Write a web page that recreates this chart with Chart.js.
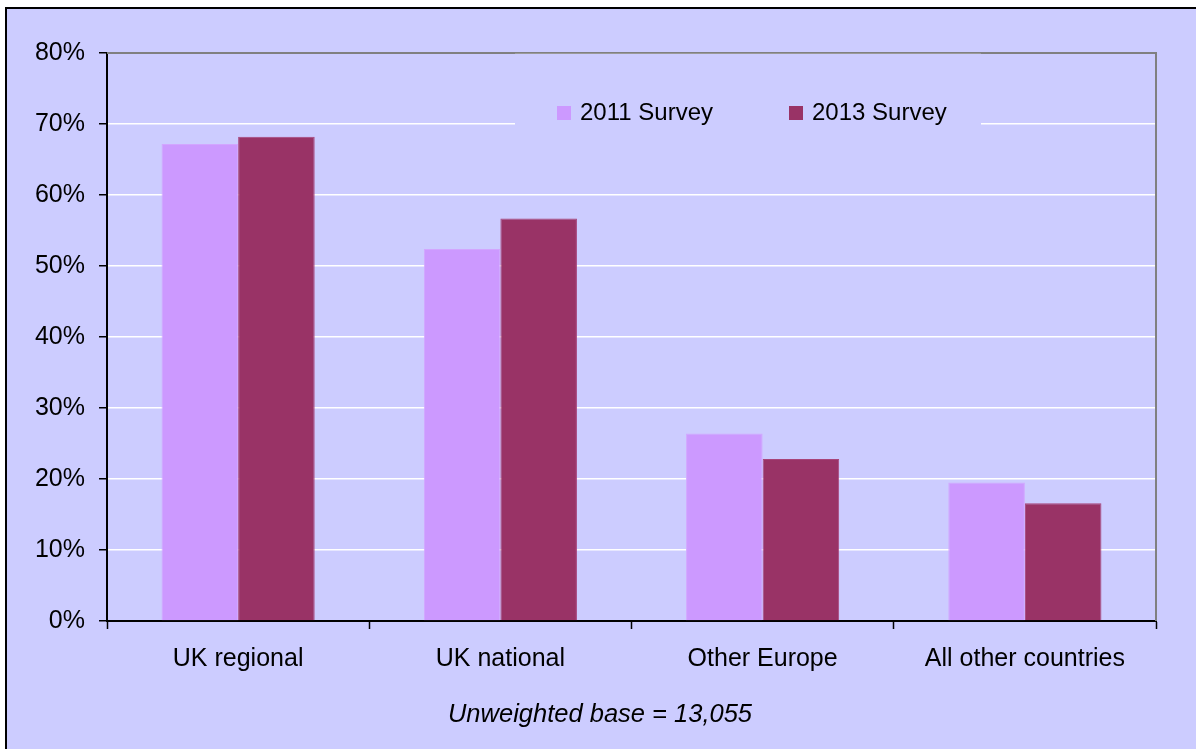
<!DOCTYPE html>
<html>
<head>
<meta charset="utf-8">
<script src="https://cdn.jsdelivr.net/npm/chart.js@4/dist/chart.umd.min.js"></script>
<style>
  html, body { margin: 0; padding: 0; background: #ffffff; }
  #wrap { width: 1196px; height: 749px; position: relative; }
</style>
</head>
<body>
<div id="wrap"><canvas id="c" width="1196" height="749"></canvas></div>
<script>
const categories = ["UK regional", "UK national", "Other Europe", "All other countries"];
const seriesNames = ["2011 Survey", "2013 Survey"];
const survey2011 = [67.2, 52.4, 26.4, 19.5];
const survey2013 = [68.2, 56.7, 22.8, 16.6];
const yTicks = [0, 10, 20, 30, 40, 50, 60, 70, 80];
const footnote = "Unweighted base = 13,055";

const FONT = "'Liberation Sans', Arial, sans-serif";
const BG = "#CCCCFF";

const framePlugin = {
  id: 'frame',
  beforeDraw(chart) {
    const ctx = chart.ctx;
    ctx.save();
    ctx.fillStyle = '#ffffff';
    ctx.fillRect(0, 0, chart.width, chart.height);
    ctx.fillStyle = BG;
    ctx.fillRect(6, 8, chart.width - 6, chart.height - 8);
    ctx.strokeStyle = '#000000';
    ctx.lineWidth = 2;
    ctx.beginPath();
    ctx.moveTo(6, chart.height);
    ctx.lineTo(6, 8);
    ctx.lineTo(chart.width, 8);
    ctx.stroke();
    ctx.restore();
  },
  afterDatasetsDraw(chart) {
    const ctx = chart.ctx;
    const a = chart.chartArea;
    ctx.save();
    ctx.strokeStyle = '#808080';
    ctx.lineWidth = 2;
    ctx.beginPath();
    ctx.moveTo(a.left, a.top);
    ctx.lineTo(a.right, a.top);
    ctx.lineTo(a.right, a.bottom);
    ctx.stroke();
    ctx.fillStyle = BG;
    ctx.fillRect(515, a.top + 1, 466, 73);
    ctx.strokeStyle = '#9a9a9a';
    ctx.lineWidth = 1;
    ctx.beginPath();
    ctx.moveTo(515, a.top + 0.5);
    ctx.lineTo(981, a.top + 0.5);
    ctx.stroke();
    const xs = [557, 789];
    ctx.font = '24px ' + FONT;
    ctx.textBaseline = 'middle';
    ctx.textAlign = 'left';
    chart.data.datasets.forEach((ds, i) => {
      ctx.fillStyle = ds.backgroundColor;
      ctx.fillRect(xs[i], 106, 14, 14);
      ctx.fillStyle = '#000000';
      ctx.fillText(ds.label, xs[i] + 23, 113);
    });
    // footnote
    ctx.font = 'italic 25.5px ' + FONT;
    ctx.textAlign = 'center';
    ctx.fillStyle = '#000000';
    ctx.fillText(footnote, 600, 715);
    ctx.restore();
  }
};

new Chart(document.getElementById('c'), {
  type: 'bar',
  data: {
    labels: categories,
    datasets: [
      { label: seriesNames[0], data: survey2011, backgroundColor: '#CC99FF', borderColor: '#D2A6FF', borderWidth: 1 },
      { label: seriesNames[1], data: survey2013, backgroundColor: '#993366', borderColor: '#A8447A', borderWidth: 1 }
    ]
  },
  options: {
    responsive: false,
    animation: false,
    devicePixelRatio: 1,
    layout: { padding: { left: 0, top: 53, right: 40, bottom: 0 } },
    plugins: {
      legend: { display: false },
      tooltip: { enabled: false },
      title: { display: false }
    },
    datasets: { bar: { categoryPercentage: 0.584, barPercentage: 1.0 } },
    scales: {
      x: {
        offset: true,
        grid: {
          offset: true,
          drawOnChartArea: false,
          drawTicks: true,
          tickLength: 8,
          tickColor: '#000000',
          tickWidth: 1.5
        },
        border: { color: '#000000', width: 2 },
        ticks: {
          color: '#000000',
          font: { family: FONT, size: 25 },
          padding: 15,
          maxRotation: 0
        },
        afterFit(scale) { scale.height = 128; }
      },
      y: {
        min: 0,
        max: 80,
        afterBuildTicks(scale) { scale.ticks = yTicks.map(v => ({ value: v })); },
        grid: {
          color: '#ffffff',
          lineWidth: 1.5,
          drawTicks: true,
          tickLength: 8,
          tickColor: '#000000',
          tickWidth: 1.5
        },
        border: { color: '#000000', width: 2 },
        ticks: {
          color: '#000000',
          font: { family: FONT, size: 25 },
          padding: 14,
          callback: v => v + '%'
        },
        afterFit(scale) { scale.width = 107; }
      }
    }
  },
  plugins: [framePlugin]
});
</script>
</body>
</html>
